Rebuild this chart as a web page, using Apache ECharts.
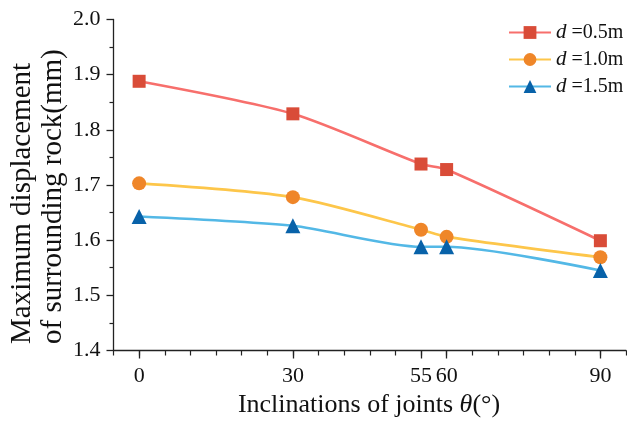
<!DOCTYPE html>
<html>
<head>
<meta charset="utf-8">
<script src="https://cdn.jsdelivr.net/npm/echarts@6/dist/echarts.min.js"></script>
<style>
  html, body { margin: 0; padding: 0; background: #fff; }
  #chart { width: 627px; height: 421px; }
</style>
</head>
<body>
<div id="chart"></div>
<script>
// Joint inclination (degrees) and maximum displacement of surrounding rock (mm)
const angles = [0, 30, 55, 60, 90];
const angleTicks = [0, 30, 55, 60, 90];
const dispD05 = [1.888, 1.829, 1.738, 1.728, 1.599];
const dispD10 = [1.703, 1.678, 1.619, 1.606, 1.569];
const dispD15 = [1.643, 1.626, 1.588, 1.588, 1.545];
const seriesNames = ['0.5m', '1.0m', '1.5m'];

const FONT = "'Liberation Serif', 'Times New Roman', serif";
const AXIS_COLOR = '#222';

function pairs(ys) {
  return angles.map((x, i) => [x, ys[i]]);
}

function lineSeries(name, ys, lineColor, markColor, symbol, size) {
  return {
    name: name,
    type: 'line',
    data: pairs(ys),
    smooth: 0.25,
    symbol: symbol,
    symbolSize: size,
    showAllSymbol: true,
    lineStyle: { color: lineColor, width: 2.6 },
    itemStyle: { color: markColor, borderWidth: 0 },
    emphasis: { disabled: true },
    z: 3
  };
}

const chart = echarts.init(document.getElementById('chart'), null, { renderer: 'canvas' });

chart.setOption({
  animation: false,
  backgroundColor: '#fff',
  grid: { left: 113.5, top: 19.5, right: 1, bottom: 70.5, containLabel: false },
  legend: {
    orient: 'vertical',
    left: 503,
    top: 17,
    itemWidth: 42,
    itemHeight: 16,
    itemGap: 6,
    data: seriesNames,
    formatter: function (n) { return '{i|d} {t|=' + n + '}'; },
    textStyle: {
      color: '#111',
      fontFamily: FONT,
      fontSize: 20,
      lineHeight: 21,
      rich: {
        i: { fontFamily: FONT, fontSize: 21, fontStyle: 'italic', color: '#111' },
        t: { fontFamily: FONT, fontSize: 20, color: '#111' }
      }
    }
  },
  xAxis: [
    {
      type: 'value',
      min: -5,
      max: 95,
      interval: 5,
      axisLine: { show: true, onZero: false, lineStyle: { color: AXIS_COLOR, width: 1.3 } },
      axisTick: { show: true, inside: false, length: 8, customValues: angleTicks, lineStyle: { color: AXIS_COLOR, width: 1.3 } },
      axisLabel: {
        customValues: angleTicks,
        margin: 15,
        color: '#111',
        fontFamily: FONT,
        fontSize: 22
      },
      splitLine: { show: false }
    },
    {
      type: 'value',
      min: -5,
      max: 95,
      interval: 5,
      position: 'bottom',
      axisLine: { show: false, onZero: false },
      axisTick: { show: true, inside: false, length: 5, lineStyle: { color: AXIS_COLOR, width: 1.2 } },
      axisLabel: { show: false },
      splitLine: { show: false }
    }
  ],
  yAxis: {
    type: 'value',
    min: 1.4,
    max: 2.0,
    interval: 0.1,
    axisLine: { show: true, onZero: false, lineStyle: { color: AXIS_COLOR, width: 1.3 } },
    axisTick: { show: true, inside: false, length: 7, lineStyle: { color: AXIS_COLOR, width: 1.3 } },
    minorTick: { show: true, splitNumber: 2, length: 4, lineStyle: { color: AXIS_COLOR, width: 1.2 } },
    axisLabel: {
      margin: 13,
      color: '#111',
      fontFamily: FONT,
      fontSize: 22,
      formatter: function (v) { return v.toFixed(1); }
    },
    splitLine: { show: false }
  },
  graphic: [
    {
      type: 'text',
      x: 38,
      y: 344,
      rotation: Math.PI / 2,
      style: {
        text: 'Maximum displacement\nof surrounding rock(mm)',
        fill: '#111',
        font: "29px 'Liberation Serif', 'Times New Roman', serif",
        textAlign: 'left',
        textVerticalAlign: 'middle',
        lineHeight: 31
      }
    },
    {
      type: 'text',
      x: 369,
      y: 405,
      style: {
        text: '{t|Inclinations of joints }{i|θ}{t|(°)}',
        textAlign: 'center',
        textVerticalAlign: 'middle',
        rich: {
          t: { fontFamily: FONT, fontSize: 26, fill: '#111', color: '#111' },
          i: { fontFamily: FONT, fontSize: 26, fontStyle: 'italic', fill: '#111', color: '#111' }
        }
      }
    }
  ],
  series: [
    lineSeries(seriesNames[0], dispD05, '#f76f6c', '#d94c38', 'rect', 13),
    lineSeries(seriesNames[1], dispD10, '#fdc64a', '#ef8629', 'circle', 14),
    lineSeries(seriesNames[2], dispD15, '#53b8e6', '#0862a9', 'triangle', 15)
  ]
});
</script>
</body>
</html>
